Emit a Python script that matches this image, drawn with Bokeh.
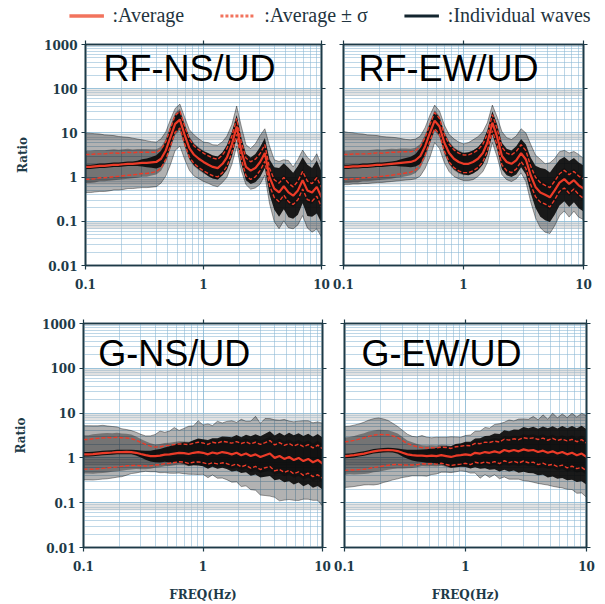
import numpy as np
from bokeh.plotting import figure
from bokeh.layouts import column, row
from bokeh.models import (FixedTicker, LogAxis, CustomJSTickFormatter, Label, Legend,
                          LegendItem, BoxAnnotation, Range1d)
from bokeh.embed import file_html
from bokeh.resources import INLINE

# ---------------- data ----------------
FREQ = [0.100, 0.110, 0.120, 0.132, 0.145, 0.158, 0.174, 0.191, 0.209, 0.229,
        0.251, 0.275, 0.302, 0.331, 0.363, 0.398, 0.437, 0.479, 0.525, 0.575,
        0.631, 0.692, 0.759, 0.832, 0.912, 1.00, 1.10, 1.20, 1.32, 1.45,
        1.58, 1.74, 1.91, 2.09, 2.29, 2.51, 2.75, 3.02, 3.31, 3.63,
        3.98, 4.37, 4.79, 5.25, 5.75, 6.31, 6.92, 7.59, 8.32, 9.12,
        10.0]

PANEL_NAMES = ["RF-NS/UD", "RF-EW/UD", "G-NS/UD", "G-EW/UD"]
Y_TICKS = [0.01, 0.1, 1, 10, 100, 1000]
X_TICKS = [0.1, 1, 10]
LEGEND_LABELS = [":Average", ":Average \u00b1 \u03c3", ":Individual waves"]

# average spectral ratio
avg_rfns = [1.7, 1.7, 1.75, 1.8, 1.8, 1.85, 1.9, 1.9, 1.95, 2.0,
            2.0, 2.05, 2.1, 2.1, 2.15, 2.2, 2.6, 4.0, 8.0, 16,
            20, 9.0, 4.5, 3.2, 2.6, 2.2, 1.9, 1.7, 1.6, 2.0,
            2.8, 5.5, 14, 4.0, 1.7, 1.4, 1.6, 2.2, 3.5, 1.0,
            0.55, 0.45, 0.62, 0.45, 0.38, 0.5, 0.85, 0.5, 0.45, 0.6,
            0.35]
avg_rfew = [1.7, 1.7, 1.75, 1.75, 1.8, 1.8, 1.85, 1.9, 1.9, 1.95,
            2.0, 2.05, 2.1, 2.15, 2.2, 2.4, 3.0, 5.0, 10, 19,
            14, 6.0, 3.5, 2.6, 2.2, 2.0, 2.0, 2.2, 2.6, 3.5,
            6.0, 17, 8.0, 3.0, 2.2, 2.0, 2.4, 3.5, 2.5, 1.1,
            0.6, 0.45, 0.4, 0.35, 0.5, 0.75, 0.9, 0.7, 0.85, 0.65,
            0.55]
avg_gns = [1.2, 1.2, 1.22, 1.25, 1.28, 1.3, 1.32, 1.35, 1.35, 1.36,
           1.35, 1.3, 1.22, 1.15, 1.1, 1.1, 1.12, 1.18, 1.2, 1.25,
           1.3, 1.28, 1.22, 1.3, 1.35, 1.3, 1.2, 1.32, 1.25, 1.35,
           1.3, 1.2, 1.3, 1.15, 1.25, 1.1, 1.2, 1.05, 1.15, 1.25,
           1.0, 1.1, 0.95, 1.05, 0.9, 1.0, 0.85, 0.95, 0.8, 0.9,
           0.75]
avg_gew = [1.1, 1.12, 1.15, 1.2, 1.25, 1.32, 1.4, 1.45, 1.48, 1.5,
           1.48, 1.42, 1.3, 1.2, 1.15, 1.12, 1.12, 1.1, 1.12, 1.1,
           1.15, 1.1, 1.05, 1.12, 1.15, 1.2, 1.15, 1.3, 1.25, 1.35,
           1.3, 1.4, 1.3, 1.5, 1.4, 1.5, 1.4, 1.55, 1.45, 1.5,
           1.35, 1.45, 1.3, 1.4, 1.25, 1.35, 1.2, 1.3, 1.15, 1.25,
           1.05]

# standard deviation (log10 units)
sig_rfns = [0.28, 0.28, 0.28, 0.27, 0.27, 0.27, 0.27, 0.26, 0.26, 0.26,
            0.25, 0.25, 0.24, 0.24, 0.23, 0.22, 0.21, 0.20, 0.20, 0.19,
            0.19, 0.20, 0.20, 0.20, 0.20, 0.20, 0.20, 0.20, 0.20, 0.20,
            0.20, 0.19, 0.18, 0.20, 0.20, 0.20, 0.20, 0.19, 0.19, 0.20,
            0.20, 0.21, 0.20, 0.21, 0.20, 0.21, 0.20, 0.21, 0.20, 0.21,
            0.22]
sig_rfew = [0.28, 0.28, 0.28, 0.28, 0.27, 0.27, 0.27, 0.27, 0.26, 0.26,
            0.26, 0.25, 0.25, 0.24, 0.23, 0.22, 0.21, 0.20, 0.19, 0.18,
            0.18, 0.19, 0.20, 0.20, 0.20, 0.20, 0.20, 0.20, 0.20, 0.20,
            0.19, 0.18, 0.19, 0.20, 0.20, 0.20, 0.20, 0.19, 0.20, 0.21,
            0.22, 0.22, 0.21, 0.22, 0.21, 0.20, 0.20, 0.21, 0.20, 0.21,
            0.22]
sig_gns = [0.33, 0.33, 0.34, 0.34, 0.34, 0.34, 0.33, 0.33, 0.32, 0.31,
           0.30, 0.28, 0.26, 0.24, 0.22, 0.20, 0.20, 0.20, 0.20, 0.20,
           0.20, 0.20, 0.21, 0.21, 0.22, 0.22, 0.22, 0.23, 0.23, 0.24,
           0.24, 0.25, 0.25, 0.26, 0.26, 0.27, 0.27, 0.28, 0.28, 0.29,
           0.29, 0.30, 0.30, 0.30, 0.31, 0.31, 0.32, 0.32, 0.32, 0.33,
           0.33]
sig_gew = [0.32, 0.32, 0.33, 0.34, 0.35, 0.36, 0.36, 0.36, 0.35, 0.34,
           0.32, 0.30, 0.27, 0.24, 0.22, 0.20, 0.18, 0.18, 0.18, 0.18,
           0.18, 0.19, 0.19, 0.20, 0.20, 0.20, 0.21, 0.21, 0.22, 0.22,
           0.23, 0.23, 0.24, 0.24, 0.25, 0.25, 0.26, 0.26, 0.27, 0.27,
           0.28, 0.28, 0.28, 0.29, 0.29, 0.29, 0.30, 0.30, 0.30, 0.31,
           0.31]

# dense core of the individual waves (half-width, log10 units)
core_rfns = [0.05, 0.05, 0.05, 0.05, 0.05, 0.05, 0.05, 0.05, 0.05, 0.05,
             0.05, 0.06, 0.08, 0.10, 0.12, 0.15, 0.18, 0.22, 0.22, 0.20,
             0.20, 0.22, 0.24, 0.24, 0.24, 0.24, 0.26, 0.26, 0.26, 0.26,
             0.28, 0.28, 0.26, 0.30, 0.30, 0.30, 0.32, 0.34, 0.34, 0.40,
             0.48, 0.55, 0.52, 0.56, 0.52, 0.55, 0.52, 0.58, 0.55, 0.60,
             0.58]
core_rfew = [0.05, 0.05, 0.05, 0.05, 0.05, 0.05, 0.05, 0.05, 0.05, 0.05,
             0.05, 0.06, 0.08, 0.10, 0.12, 0.14, 0.18, 0.20, 0.22, 0.20,
             0.20, 0.22, 0.24, 0.24, 0.24, 0.24, 0.26, 0.26, 0.26, 0.26,
             0.28, 0.26, 0.28, 0.30, 0.30, 0.30, 0.32, 0.32, 0.34, 0.40,
             0.48, 0.55, 0.58, 0.56, 0.55, 0.52, 0.50, 0.52, 0.50, 0.52,
             0.52]
core_gns = [0.05, 0.05, 0.05, 0.05, 0.05, 0.05, 0.05, 0.05, 0.05, 0.05,
            0.05, 0.06, 0.08, 0.10, 0.12, 0.14, 0.15, 0.16, 0.18, 0.20,
            0.22, 0.24, 0.26, 0.28, 0.30, 0.30, 0.32, 0.32, 0.34, 0.35,
            0.36, 0.38, 0.40, 0.40, 0.42, 0.44, 0.45, 0.46, 0.48, 0.50,
            0.50, 0.52, 0.52, 0.54, 0.55, 0.55, 0.56, 0.56, 0.57, 0.58,
            0.58]
core_gew = [0.05, 0.05, 0.05, 0.05, 0.05, 0.05, 0.05, 0.05, 0.05, 0.05,
            0.05, 0.06, 0.08, 0.10, 0.12, 0.13, 0.14, 0.15, 0.16, 0.18,
            0.20, 0.22, 0.24, 0.26, 0.26, 0.28, 0.30, 0.32, 0.34, 0.36,
            0.38, 0.40, 0.42, 0.44, 0.45, 0.46, 0.48, 0.50, 0.50, 0.52,
            0.52, 0.54, 0.55, 0.56, 0.56, 0.58, 0.58, 0.60, 0.60, 0.62,
            0.62]

# outer envelope of the individual waves: log10 distance above / below the average
ehi_rfns = [0.77, 0.76, 0.74, 0.72, 0.70, 0.68, 0.66, 0.64, 0.62, 0.60,
            0.58, 0.55, 0.52, 0.50, 0.47, 0.45, 0.45, 0.42, 0.40, 0.35,
            0.35, 0.40, 0.42, 0.45, 0.45, 0.45, 0.50, 0.50, 0.52, 0.50,
            0.48, 0.45, 0.46, 0.55, 0.50, 0.50, 0.55, 0.60, 0.55, 0.70,
            0.65, 0.70, 0.60, 0.72, 0.65, 0.70, 0.68, 0.75, 0.70, 0.75,
            0.72]
elo_rfns = [0.58, 0.58, 0.58, 0.58, 0.58, 0.58, 0.57, 0.57, 0.57, 0.56,
            0.56, 0.56, 0.56, 0.56, 0.56, 0.56, 0.55, 0.58, 0.62, 0.60,
            0.60, 0.55, 0.50, 0.48, 0.45, 0.44, 0.42, 0.42, 0.42, 0.42,
            0.45, 0.45, 0.45, 0.45, 0.40, 0.42, 0.45, 0.50, 0.50, 0.60,
            0.75, 0.82, 0.78, 0.80, 0.75, 0.78, 0.80, 0.85, 0.90, 0.95,
            0.90]
ehi_rfew = [0.80, 0.78, 0.76, 0.74, 0.72, 0.70, 0.68, 0.66, 0.64, 0.62,
            0.60, 0.58, 0.55, 0.52, 0.50, 0.48, 0.45, 0.42, 0.40, 0.35,
            0.35, 0.40, 0.42, 0.45, 0.45, 0.45, 0.48, 0.50, 0.50, 0.48,
            0.45, 0.40, 0.45, 0.55, 0.55, 0.55, 0.55, 0.55, 0.60, 0.70,
            0.72, 0.75, 0.70, 0.78, 0.72, 0.70, 0.65, 0.70, 0.65, 0.70,
            0.68]
elo_rfew = [0.40, 0.40, 0.40, 0.40, 0.40, 0.40, 0.40, 0.40, 0.40, 0.40,
            0.40, 0.40, 0.40, 0.40, 0.40, 0.42, 0.45, 0.50, 0.55, 0.50,
            0.50, 0.45, 0.42, 0.40, 0.38, 0.38, 0.38, 0.40, 0.40, 0.42,
            0.45, 0.45, 0.45, 0.42, 0.40, 0.40, 0.42, 0.45, 0.50, 0.60,
            0.70, 0.80, 0.85, 0.82, 0.80, 0.75, 0.72, 0.75, 0.70, 0.72,
            0.70]
ehi_gns = [0.64, 0.64, 0.63, 0.62, 0.62, 0.60, 0.58, 0.56, 0.52, 0.50,
           0.48, 0.46, 0.44, 0.43, 0.45, 0.48, 0.55, 0.50, 0.52, 0.58,
           0.50, 0.55, 0.62, 0.60, 0.70, 0.62, 0.68, 0.60, 0.72, 0.65,
           0.70, 0.75, 0.68, 0.80, 0.72, 0.78, 0.85, 0.75, 0.82, 0.78,
           0.85, 0.80, 0.88, 0.80, 0.85, 0.82, 0.90, 0.85, 0.88, 0.85,
           0.90]
elo_gns = [0.57, 0.57, 0.58, 0.58, 0.58, 0.58, 0.57, 0.56, 0.55, 0.52,
           0.48, 0.45, 0.40, 0.36, 0.35, 0.35, 0.38, 0.40, 0.42, 0.44,
           0.45, 0.46, 0.45, 0.48, 0.50, 0.48, 0.52, 0.50, 0.55, 0.58,
           0.60, 0.62, 0.65, 0.70, 0.72, 0.75, 0.80, 0.85, 0.90, 0.95,
           0.88, 1.00, 0.92, 0.95, 0.90, 0.95, 0.85, 0.90, 0.85, 0.90,
           0.95]
ehi_gew = [0.66, 0.66, 0.67, 0.68, 0.70, 0.72, 0.73, 0.73, 0.70, 0.66,
           0.60, 0.55, 0.50, 0.45, 0.42, 0.42, 0.45, 0.42, 0.40, 0.42,
           0.40, 0.42, 0.45, 0.42, 0.40, 0.42, 0.45, 0.48, 0.50, 0.55,
           0.55, 0.60, 0.65, 0.62, 0.70, 0.65, 0.72, 0.68, 0.70, 0.75,
           0.72, 0.80, 0.75, 0.85, 0.80, 0.85, 0.82, 0.88, 0.85, 0.90,
           0.92]
elo_gew = [0.70, 0.70, 0.70, 0.70, 0.70, 0.72, 0.75, 0.75, 0.72, 0.70,
           0.66, 0.62, 0.55, 0.50, 0.46, 0.45, 0.45, 0.45, 0.42, 0.40,
           0.38, 0.36, 0.35, 0.36, 0.35, 0.38, 0.40, 0.45, 0.55, 0.50,
           0.55, 0.52, 0.58, 0.60, 0.62, 0.65, 0.62, 0.70, 0.68, 0.72,
           0.70, 0.75, 0.72, 0.78, 0.75, 0.80, 0.78, 0.82, 0.85, 0.88,
           0.90]

for arr in [avg_rfns, avg_rfew, avg_gns, avg_gew, sig_rfns, sig_rfew, sig_gns, sig_gew,
            core_rfns, core_rfew, core_gns, core_gew, ehi_rfns, elo_rfns, ehi_rfew,
            elo_rfew, ehi_gns, elo_gns, ehi_gew, elo_gew]:
    assert len(arr) == len(FREQ), len(arr)

# ---------------- style ----------------
AXIS_COLOR = "#1d3a47"
GRID_COLOR = "#8ab8d4"
RED = "#ec3b28"
LEG_RED = "#f2735d"
TICK_FONT = "DejaVu Serif"
TITLE_FONT = "Liberation Sans"

y_minor = [m * 10.0 ** e for e in range(-2, 3) for m in range(2, 10)]
x_minor = [m * 10.0 ** e for e in range(-1, 1) for m in range(2, 10)]

SHOW_FMT = "return String(parseFloat(tick.toPrecision(3)));"
HIDE_FMT = "return '';"


def style_axis(ax, show_labels):
    ax.formatter = CustomJSTickFormatter(code=SHOW_FMT if show_labels else HIDE_FMT)
    ax.axis_line_color = AXIS_COLOR
    ax.axis_line_width = 1.6
    ax.major_tick_line_color = AXIS_COLOR
    ax.major_tick_line_width = 1.2
    ax.major_tick_out = 4
    ax.major_tick_in = 0
    ax.minor_tick_line_color = None
    ax.major_label_text_font = TICK_FONT
    ax.major_label_text_font_style = "bold"
    ax.major_label_text_font_size = "12px"
    ax.major_label_text_color = AXIS_COLOR
    ax.axis_label_text_font = TICK_FONT
    ax.axis_label_text_font_style = "bold"
    ax.axis_label_text_font_size = "12px"
    ax.axis_label_text_color = AXIS_COLOR


def make_panel(idx, avg, sig, core, ehi, elo, frame_w, frame_h, borders,
               ylab, xlab, title_xy):
    bl, br, bt, bb = borders
    p = figure(frame_width=frame_w, frame_height=frame_h, x_axis_type="log", y_axis_type="log",
               x_range=Range1d(0.1, 10), y_range=Range1d(0.01, 1000),
               min_border_left=bl, min_border_right=br, min_border_top=bt, min_border_bottom=bb,
               toolbar_location=None, output_backend="svg", title=None)
    p.background_fill_color = "white"
    p.border_fill_color = "white"
    p.outline_line_color = AXIS_COLOR
    p.outline_line_width = 1.6

    xt = FixedTicker(ticks=X_TICKS, minor_ticks=x_minor)
    yt = FixedTicker(ticks=Y_TICKS, minor_ticks=y_minor)
    p.xaxis[0].ticker = xt
    p.yaxis[0].ticker = yt
    style_axis(p.xaxis[0], True)
    style_axis(p.yaxis[0], ylab)
    p.xaxis[0].major_label_standoff = 9
    p.yaxis[0].major_label_standoff = 4
    if ylab:
        p.yaxis[0].axis_label = "Ratio"
        p.yaxis[0].axis_label_standoff = 11
    if xlab:
        p.xaxis[0].axis_label = "FREQ(Hz)"
        p.xaxis[0].axis_label_standoff = 14

    top = LogAxis(ticker=xt)
    style_axis(top, False)
    p.add_layout(top, "above")
    right = LogAxis(ticker=yt)
    style_axis(right, False)
    p.add_layout(right, "right")

    for g, t in ((p.xgrid[0], xt), (p.ygrid[0], yt)):
        g.ticker = t
        g.grid_line_color = GRID_COLOR
        g.grid_line_alpha = 0.85
        g.grid_line_width = 1
        g.minor_grid_line_color = GRID_COLOR
        g.minor_grid_line_alpha = 0.7
        g.minor_grid_line_width = 0.8

    for d in (100, 10, 1, 0.1):
        p.add_layout(BoxAnnotation(bottom=0.68 * d, top=0.97 * d, fill_color="#bdbdbd",
                                   fill_alpha=0.45, line_color=None, level="underlay"))

    f = np.array(FREQ)
    a = np.array(avg)
    s = np.array(sig)
    c = np.array(core)
    hi = a * 10 ** np.array(ehi)
    lo = a / 10 ** np.array(elo)
    # individual waves: outer haze, intermediate band, dense core
    p.varea(x=f, y1=lo, y2=hi, fill_color="black", fill_alpha=0.3)
    p.line(f, hi, line_color="black", line_alpha=0.55, line_width=0.7)
    p.line(f, lo, line_color="black", line_alpha=0.55, line_width=0.7)
    p.varea(x=f, y1=a / 10 ** (1.3 * s), y2=a * 10 ** (1.3 * s), fill_color="black", fill_alpha=0.35)
    p.varea(x=f, y1=a / 10 ** c, y2=a * 10 ** c, fill_color="#080808", fill_alpha=0.9)
    p.line(f, a * 10 ** s, line_color=RED, line_width=1.4, line_dash="4 2")
    p.line(f, a / 10 ** s, line_color=RED, line_width=1.4, line_dash="4 2")
    p.line(f, a, line_color=RED, line_width=2.2)

    p.add_layout(Label(x=title_xy[0], y=title_xy[1], text=PANEL_NAMES[idx],
                       text_font=TITLE_FONT, text_font_size="36px", text_color="black",
                       text_baseline="alphabetic"))
    return p


p1 = make_panel(0, avg_rfns, sig_rfns, core_rfns, ehi_rfns, elo_rfns, 236, 221,
                (85, 11, 14, 35), True, False, (0.142, 287))
p2 = make_panel(1, avg_rfew, sig_rfew, core_rfew, ehi_rfew, elo_rfew, 240, 221,
                (11, 22, 14, 35), False, False, (0.1335, 287))
p3 = make_panel(2, avg_gns, sig_gns, core_gns, ehi_gns, elo_gns, 239, 224,
                (83, 11, 23, 57), True, True, (0.133, 212))
p4 = make_panel(3, avg_gew, sig_gew, core_gew, ehi_gew, elo_gew, 242, 224,
                (11, 19, 23, 57), False, True, (0.138, 212))

# ---------------- legend strip ----------------
leg = figure(width=605, height=30, x_range=Range1d(0, 1), y_range=Range1d(0, 1),
             toolbar_location=None, output_backend="svg", title=None,
             min_border_left=54, min_border_right=0, min_border_top=0, min_border_bottom=0)
leg.axis.visible = False
leg.grid.visible = False
leg.outline_line_color = None
# legend-only renderers: their points lie outside the strip's visible range
r_avg = leg.line(x=[5, 6], y=[5, 6], line_color=LEG_RED, line_width=3.5)
r_sig = leg.line(x=[5, 6], y=[5, 6], line_color=LEG_RED, line_width=3, line_dash="3 2")
r_ind = leg.line(x=[5, 6], y=[5, 6], line_color="#13252e", line_width=3)
legend = Legend(items=[LegendItem(label=LEGEND_LABELS[0], renderers=[r_avg]),
                       LegendItem(label=LEGEND_LABELS[1], renderers=[r_sig]),
                       LegendItem(label=LEGEND_LABELS[2], renderers=[r_ind])],
                orientation="horizontal", location="center", glyph_width=35, glyph_height=20,
                label_height=20, label_standoff=9, spacing=36, padding=0, margin=0,
                border_line_color=None, background_fill_alpha=0,
                label_text_font="Liberation Serif", label_text_font_size="20px",
                label_text_color="#1f3440")
leg.add_layout(legend, "center")

layout = column(leg, row(p1, p2), row(p3, p4))
open("out.html", "w").write(file_html(layout, INLINE))
